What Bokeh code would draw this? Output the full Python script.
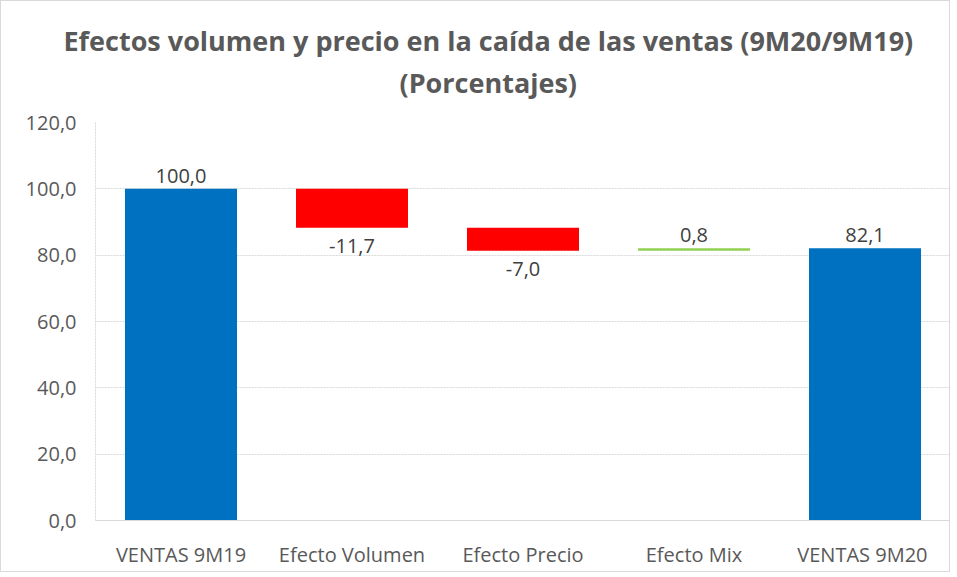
from bokeh.plotting import figure
from bokeh.models import ColumnDataSource, Title, CustomJSTickFormatter, FixedTicker
from bokeh.core.properties import value
from bokeh.embed import file_html
from bokeh.resources import INLINE

categories = ["VENTAS 9M19", "Efecto Volumen", "Efecto Precio", "Efecto Mix", "VENTAS  9M20"]
values = [100.0, -11.7, -7.0, 0.8, 82.1]
kinds = ["total", "delta", "delta", "delta", "total"]
y_ticks = [0, 20, 40, 60, 80, 100, 120]
title_1 = "Efectos volumen y precio en la caída de las ventas (9M20/9M19)"
title_2 = "(Porcentajes)"

BLUE = "#0070C0"
RED = "#FF0000"
GREEN = "#92D050"
GRAY_TXT = "#595959"
FONT = "Open Sans"

bottoms, tops, colors, label_y, label_off, labels = [], [], [], [], [], []
running = 0.0
for v, k in zip(values, kinds):
    if k == "total":
        b, t = 0.0, v
        running = v
        colors.append(BLUE)
    else:
        b, t = (running, running + v) if v >= 0 else (running + v, running)
        running += v
        colors.append(GREEN if v >= 0 else RED)
    bottoms.append(b)
    tops.append(t)
    if v >= 0:
        label_y.append(t)
        label_off.append(-13)
    else:
        label_y.append(b)
        label_off.append(18)
    labels.append(f"{v:.1f}".replace(".", ","))

src = ColumnDataSource(dict(cat=categories, bottom=bottoms, top=tops, color=colors,
                            ly=label_y, loff=label_off, label=labels))

p = figure(x_range=categories, y_range=(0, 120), width=950, height=572,
           output_backend="svg", toolbar_location=None,
           min_border_left=94, min_border_right=1, min_border_bottom=53, min_border_top=0)

p.add_layout(Title(text=title_2, align="left", offset=304, text_font=FONT,
                   text_font_size="27px", text_font_style="bold", text_color=GRAY_TXT,
                   standoff=44), "above")
p.add_layout(Title(text=title_1, align="left", offset=-32, text_font=FONT,
                   text_font_size="27px", text_font_style="bold", text_color=GRAY_TXT,
                   standoff=-38), "above")
p.add_layout(Title(text=" ", align="left", text_font=FONT, text_font_size="6px",
                   standoff=27), "above")

p.vbar(x="cat", bottom="bottom", top="top", width=0.655, fill_color="color",
       line_color=None, source=src)

p.text(x="cat", y="ly", text="label", y_offset="loff", source=src,
       text_align="center", text_baseline="middle", text_font=value(FONT),
       text_font_size="20px", text_color="#404040")

p.outline_line_color = None
p.xgrid.grid_line_color = None
p.ygrid.grid_line_color = "#d9d9d9"
p.ygrid.grid_line_dash = "2 1"
p.yaxis.ticker = FixedTicker(ticks=y_ticks)
p.yaxis.formatter = CustomJSTickFormatter(code="return tick.toFixed(1).replace('.', ',');")
p.yaxis.axis_line_color = "#d9d9d9"
p.yaxis.axis_line_dash = "2 1"
p.yaxis.major_tick_line_color = None
p.yaxis.minor_tick_line_color = None
p.yaxis.major_label_standoff = 13
p.yaxis.major_label_text_font = FONT
p.yaxis.major_label_text_font_size = "20px"
p.yaxis.major_label_text_color = GRAY_TXT

p.xaxis.axis_line_color = "#d9d9d9"
p.xaxis.major_tick_line_color = None
p.xaxis.minor_tick_line_color = None
p.xaxis.major_label_standoff = 14
p.xaxis.major_label_text_font = FONT
p.xaxis.major_label_text_font_size = "20px"
p.xaxis.major_label_text_color = GRAY_TXT

p.styles = {"border": "1px solid #d9d9d9"}

open("out.html", "w").write(file_html(p, INLINE))
